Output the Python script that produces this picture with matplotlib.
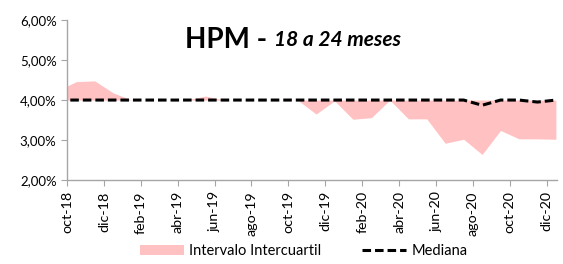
import matplotlib
matplotlib.use('Agg')
import matplotlib.pyplot as plt
from matplotlib.patches import Patch
from matplotlib.lines import Line2D
import numpy as np

plt.rcParams['font.family'] = ['Lato', 'DejaVu Sans']

# monthly data, sep-18 .. dic-20 (values in %)
meses = ['sep-18', 'oct-18', 'nov-18', 'dic-18', 'ene-19', 'feb-19', 'mar-19', 'abr-19',
         'may-19', 'jun-19', 'jul-19', 'ago-19', 'sep-19', 'oct-19', 'nov-19', 'dic-19',
         'ene-20', 'feb-20', 'mar-20', 'abr-20', 'may-20', 'jun-20', 'jul-20', 'ago-20',
         'sep-20', 'oct-20', 'nov-20', 'dic-20']
superior = [4.24, 4.46, 4.48, 4.18, 4.00, 4.00, 4.00, 4.00,
            4.10, 4.00, 4.00, 4.00, 4.00, 4.00, 4.00, 4.00,
            4.00, 4.00, 4.00, 4.00, 4.00, 4.00, 4.00, 4.00,
            4.00, 4.00, 4.00, 4.00]
inferior = [4.00, 4.00, 4.00, 4.00, 4.00, 4.00, 4.00, 4.00,
            4.00, 4.00, 4.00, 4.00, 4.00, 4.00, 3.65, 3.98,
            3.52, 3.56, 4.00, 3.53, 3.53, 2.92, 3.02, 2.64,
            3.24, 3.03, 3.03, 3.02]
mediana = [4.00, 4.00, 4.00, 4.00, 4.00, 4.00, 4.00, 4.00,
           4.00, 4.00, 4.00, 4.00, 4.00, 4.00, 4.00, 4.00,
           4.00, 4.00, 4.00, 4.00, 4.00, 4.00, 4.00, 3.87,
           4.00, 4.00, 3.95, 4.00]
etiquetas = ['oct-18', 'dic-18', 'feb-19', 'abr-19', 'jun-19', 'ago-19', 'oct-19',
             'dic-19', 'feb-20', 'abr-20', 'jun-20', 'ago-20', 'oct-20', 'dic-20']

# points sit mid-month, axis starts at oct-18
x = np.arange(len(meses)) - 0.5

fig = plt.figure(figsize=(5.63, 2.64), dpi=100)
ax = fig.add_axes([0.119, 0.318, 0.870, 0.606])

rosa = '#FFC1C1'
guion = (0, (2.8, 1.3))
ax.fill_between(x, inferior, superior, color=rosa, linewidth=0)
ax.plot(x, mediana, color='black', linestyle=guion, linewidth=2.2)

ax.set_xlim(0, 26.55)
ax.set_ylim(2, 6)
ax.set_yticks([2, 3, 4, 5, 6])
ax.yaxis.set_major_formatter(plt.FuncFormatter(lambda v, p: ('%.2f%%' % v).replace('.', ',')))
ax.set_xticks(np.arange(0, 27, 2))
ax.set_xticklabels(etiquetas, rotation=90)

for s in ['top', 'right']:
    ax.spines[s].set_visible(False)
for s in ['left', 'bottom']:
    ax.spines[s].set_color('#A6A6A6')
    ax.spines[s].set_linewidth(1)
ax.tick_params(axis='both', colors='#A6A6A6', labelcolor='black', length=4)
ax.tick_params(axis='y', labelsize=9.5)
ax.tick_params(axis='x', labelsize=10.3, pad=4)

t1 = fig.text(185 / 563, 1 - 40 / 264, 'HPM - ', fontsize=20, fontweight='bold',
              ha='left', va='center')
fig.canvas.draw()
bb = t1.get_window_extent()
fig.text(bb.x1 / fig.bbox.width, 1 - 40 / 264, '18 a 24 meses', fontsize=15,
         fontweight='bold', style='italic', ha='left', va='center')

handles = [Patch(facecolor=rosa, edgecolor='none'),
           Line2D([0], [0], color='black', linestyle=guion, linewidth=2.2)]
fig.legend(handles, ['Intervalo Intercuartil', 'Mediana'], loc='center',
           bbox_to_anchor=(0.54, 0.05), ncol=2, frameon=False, fontsize=10.5,
           handlelength=3.0, columnspacing=2.8, handletextpad=0.4)

plt.savefig('out.png', dpi=100)
